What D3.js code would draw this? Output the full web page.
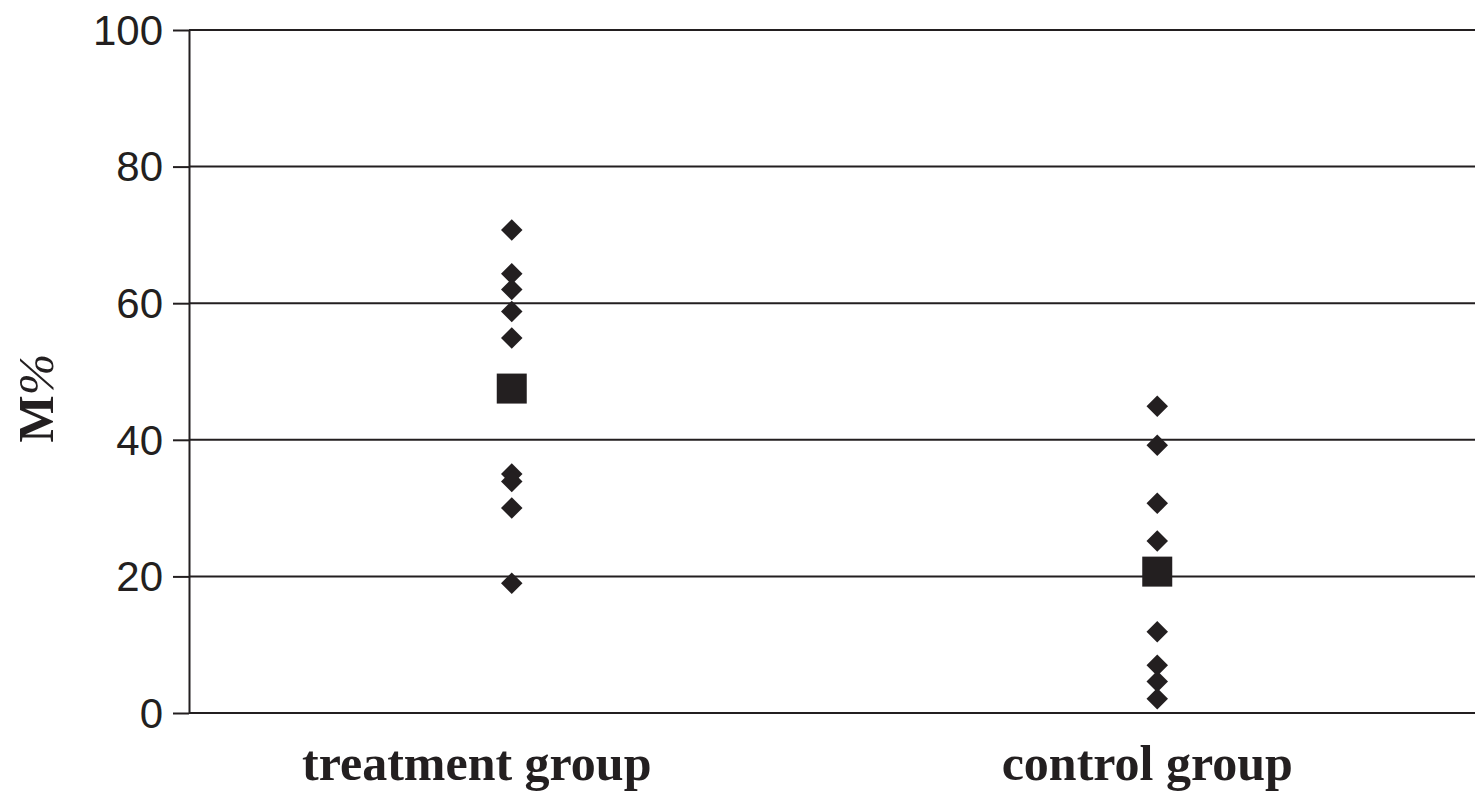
<!DOCTYPE html>
<html>
<head>
<meta charset="utf-8">
<script src="https://cdn.jsdelivr.net/npm/d3@7"></script>
<style>
  html, body { margin: 0; padding: 0; background: #fff; }
  svg { display: block; }
  .tick-label { font-family: "Liberation Sans", Arial, sans-serif; font-size: 42px; fill: #231f20; }
  .cat-label { font-family: "Liberation Serif", "Times New Roman", serif; font-weight: bold; font-size: 50px; fill: #231f20; }
  .axis-title { font-family: "Liberation Serif", "Times New Roman", serif; font-weight: bold; font-size: 50px; fill: #231f20; }
</style>
</head>
<body>
<svg id="chart" width="1475" height="791"></svg>
<script>
const categories = ["treatment group", "control group"];
const treatmentValues = [70.7, 64.3, 62.0, 58.8, 54.9, 35.0, 33.9, 30.0, 19.0];
const controlValues = [44.9, 39.2, 30.7, 25.2, 11.9, 7.0, 4.6, 2.1];
const groupMeans = [47.5, 20.7];
const yTicks = [0, 20, 40, 60, 80, 100];
const yTitle = "M";
const yTitleSuffix = "%";

const ink = "#231f20";
const width = 1475;
const height = 791;
const margin = { top: 30, right: 0, bottom: 78, left: 189 };
// labels under the axis sit a little left of the group markers in the original
const labelShift = [-35, -10];

const svg = d3.select("#chart");

const y = d3.scaleLinear()
  .domain([0, 100])
  .range([height - margin.bottom, margin.top]);

const x = d3.scaleBand()
  .domain(categories)
  .range([margin.left, width + 5]);

// gridlines
svg.append("g")
  .selectAll("line")
  .data(yTicks.filter((t) => t > 0))
  .join("line")
  .attr("x1", margin.left)
  .attr("x2", width)
  .attr("y1", (d) => y(d))
  .attr("y2", (d) => y(d))
  .attr("stroke", ink)
  .attr("stroke-width", 2);

// y axis
const yAxis = d3.axisLeft(y)
  .tickValues(yTicks)
  .tickSize(16)
  .tickPadding(10)
  .tickSizeOuter(0);

const yg = svg.append("g")
  .attr("transform", `translate(${margin.left},0)`)
  .call(yAxis);
yg.select(".domain").attr("stroke", ink).attr("stroke-width", 2);
yg.selectAll(".tick line").attr("stroke", ink).attr("stroke-width", 2);
yg.selectAll(".tick text")
  .attr("class", "tick-label")
  .attr("font-size", null)
  .attr("font-family", null)
  .attr("fill", null)
  .attr("dy", "0.34em");
yg.attr("font-size", null).attr("font-family", null);

// x axis baseline
svg.append("line")
  .attr("x1", margin.left)
  .attr("x2", width)
  .attr("y1", y(0))
  .attr("y2", y(0))
  .attr("stroke", ink)
  .attr("stroke-width", 2);

// category labels
svg.append("g")
  .selectAll("text")
  .data(categories)
  .join("text")
  .attr("class", "cat-label")
  .attr("text-anchor", "middle")
  .attr("x", (d, i) => x(d) + x.bandwidth() / 2 + labelShift[i])
  .attr("y", 780)
  .text((d) => d);

// y title
const title = svg.append("text")
  .attr("class", "axis-title")
  .attr("text-anchor", "middle")
  .attr("transform", "translate(53,398) rotate(-90)");
title.append("tspan").text(yTitle);
title.append("tspan")
  .attr("font-weight", "normal")
  .attr("font-style", "italic")
  .text(yTitleSuffix);

// individual points
const groups = [treatmentValues, controlValues];
const diamond = d3.symbol(d3.symbolSquare, 231);
const square = d3.symbol(d3.symbolSquare, 900);

groups.forEach((values, i) => {
  const cx = x(categories[i]) + x.bandwidth() / 2;
  svg.append("g")
    .selectAll("path")
    .data(values)
    .join("path")
    .attr("d", diamond)
    .attr("transform", (d) => `translate(${cx},${y(d)}) rotate(45)`)
    .attr("fill", ink);
});

// group means
svg.append("g")
  .selectAll("path")
  .data(groupMeans)
  .join("path")
  .attr("d", square)
  .attr("transform", (d, i) => `translate(${x(categories[i]) + x.bandwidth() / 2},${y(d)})`)
  .attr("fill", ink);
</script>
</body>
</html>
